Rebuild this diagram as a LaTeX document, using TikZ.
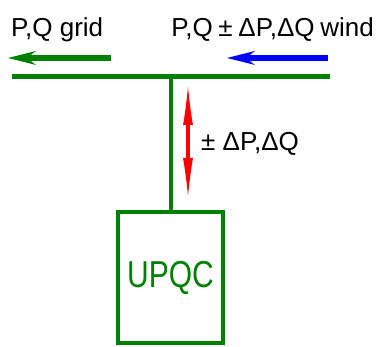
\documentclass[tikz,border=0pt]{standalone}
\usepackage{fontspec}
\setmainfont{Liberation Sans}
\usetikzlibrary{arrows.meta,positioning}
\definecolor{busgreen}{HTML}{008000}
\definecolor{flowblue}{HTML}{0000FF}
\definecolor{flowred}{HTML}{FF0000}
\tikzset{
  lbl/.style={inner sep=0pt, font=\fontsize{26}{26}\selectfont},
  busline/.style={line width=5pt, draw=busgreen},
  unitbox/.style={draw=busgreen, line width=4pt, minimum width=105pt,
    minimum height=131pt, text=busgreen, font=\fontsize{30}{30}\selectfont},
  gridarr/.style={-{Stealth[length=28pt, width=14pt, line width=0pt]},
    line width=6pt, draw=busgreen},
  windarr/.style={gridarr, draw=flowblue},
  exarr/.style={{Latex[length=38pt, width=10pt, line width=0pt]}-{Latex[length=38pt, width=10pt, line width=0pt]},
    line width=3.5pt, draw=flowred}
}
\begin{document}
\begin{tikzpicture}[x=1pt, y=-1pt]
    \useasboundingbox (0,0) rectangle (381,347);
    \node[lbl, anchor=base west] (grid) at (11,37) {P,Q grid};
    \node[lbl, anchor=base east] (wind) at (374,37) {\spaceskip=0.22em P,Q ± ΔP,ΔQ wind};
    \coordinate (busL) at (12,76.5);
    \coordinate (busR) at (330,76.5);
    \draw[busline] (busL) -- (busR);
    \coordinate (gs) at (111,58);
    \coordinate (ge) at (8,58);
    \coordinate (bs) at (328,58);
    \coordinate (be) at (227,58);
    \draw[gridarr] (gs) -- (ge);
    \draw[windarr] (bs) -- (be);
    \node[unitbox] (upqc) at (170.5,277.5) {\scalebox{1}[1.25]{UPQC}};
    \draw[busline, line width=4pt] (upqc.north) -- (upqc.north |- busL);
    \coordinate (rt) at (188,87);
    \coordinate (rb) at (188,196);
    \draw[exarr] (rt) -- (rb);
    \node[lbl, anchor=base west] (delta) at (201,151) {± ΔP,ΔQ};
\end{tikzpicture}
\end{document}
